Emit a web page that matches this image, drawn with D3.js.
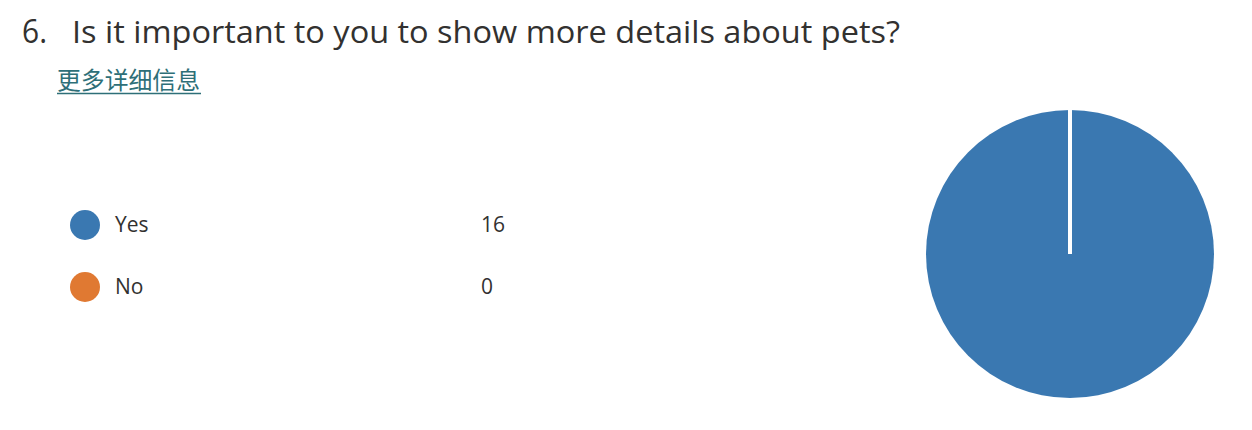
<!DOCTYPE html>
<html><head><meta charset="utf-8">
<script src="https://cdn.jsdelivr.net/npm/d3@7/dist/d3.min.js"></script>
<style>
html,body{margin:0;padding:0;background:#fff;}
svg{display:block;}
</style>
</head><body>
<svg id="chart" width="1252" height="430"></svg>
<script>
const questionNumber = "6.";
const questionTitle = "Is it important to you to show more details about pets?";
const linkText = "更多详细信息";
const categories = ["Yes", "No"];
const counts = [16, 0];
const colors = ["#3a78b1", "#e07932"];

const svg = d3.select("#chart");
const font = "'Open Sans', 'Noto Sans', sans-serif";

function fit(sel, target) {
  const w = sel.node().getComputedTextLength();
  const fs = parseFloat(sel.attr("font-size"));
  sel.attr("font-size", fs * target / w);
}

svg.append("text").attr("x", 22).attr("y", 43)
  .attr("font-family", font).attr("font-size", 32).attr("fill", "#323130")
  .attr("textLength", 25).attr("lengthAdjust", "spacingAndGlyphs")
  .text(questionNumber);
svg.append("text").attr("x", 72).attr("y", 43)
  .attr("font-family", font).attr("font-size", 31.5).attr("fill", "#323130")
  .attr("textLength", 828).attr("lengthAdjust", "spacingAndGlyphs")
  .text(questionTitle);

const link = svg.append("text").attr("x", 57).attr("y", 89)
  .attr("font-family", "'Noto Sans CJK SC', sans-serif").attr("font-size", 22)
  .attr("fill", "#2e6f78").text(linkText);
fit(link, 143);
svg.append("line").attr("x1", 57).attr("x2", 201).attr("y1", 93.5).attr("y2", 93.5)
  .attr("stroke", "#2e6f78").attr("stroke-width", 1.5);

// legend
const y = d3.scalePoint().domain(categories).range([225, 287]);
const leg = svg.append("g").selectAll("g").data(categories).join("g")
  .attr("transform", d => `translate(0,${y(d)})`);
leg.append("circle").attr("cx", 85).attr("r", 15).attr("fill", (d, i) => colors[i]);
leg.append("text").attr("x", 115).attr("y", 7)
  .attr("font-family", font).attr("font-size", 21).attr("fill", "#323130").text(d => d);
leg.append("text").attr("x", 481).attr("y", 7)
  .attr("font-family", font).attr("font-size", 21).attr("fill", "#323130")
  .text((d, i) => counts[i]);

// pie
const data = categories.map((c, i) => ({ c, v: counts[i], color: colors[i] }));
const pie = d3.pie().value(d => d.v).sort(null);
const arcs = pie(data);
const R = 144;
const arc = d3.arc().innerRadius(0).outerRadius(R);
const g = svg.append("g").attr("transform", "translate(1070,254)");
g.selectAll("path").data(arcs).join("path")
  .attr("d", arc).attr("fill", d => d.data.color);
g.selectAll("line").data(arcs.filter(d => d.value > 0)).join("line")
  .attr("x1", 0).attr("y1", 0)
  .attr("x2", d => d3.pointRadial(d.startAngle, R + 1)[0])
  .attr("y2", d => d3.pointRadial(d.startAngle, R + 1)[1])
  .attr("stroke", "#fff").attr("stroke-width", 4);
</script>
</body></html>
